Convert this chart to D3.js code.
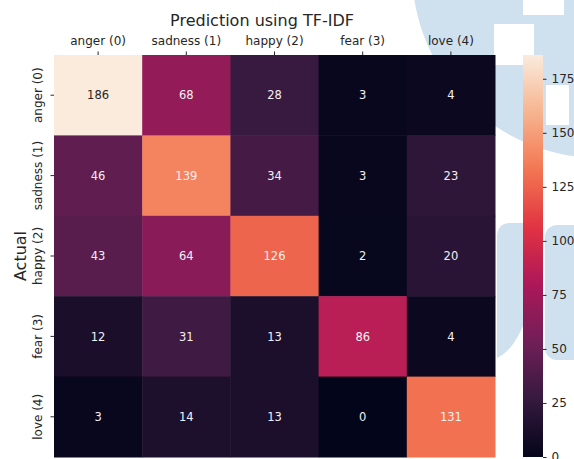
<!DOCTYPE html>
<html>
<head>
<meta charset="utf-8">
<script src="https://cdn.jsdelivr.net/npm/d3@7"></script>
<style>
  body { margin: 0; background: #fff; }
  svg { display: block; font-family: "DejaVu Sans", sans-serif; }
</style>
</head>
<body>
<div id="chart"></div>
<script>
// confusion matrix values
const predictedLabels = ["anger (0)", "sadness (1)", "happy (2)", "fear (3)", "love (4)"];
const actualLabels = ["anger (0)", "sadness (1)", "happy (2)", "fear (3)", "love (4)"];
const counts = [
  [186, 68, 28, 3, 4],
  [46, 139, 34, 3, 23],
  [43, 64, 126, 2, 20],
  [12, 31, 13, 86, 4],
  [3, 14, 13, 0, 131]
];
const colorbarTicks = [0, 25, 50, 75, 100, 125, 150, 175];

// seaborn "rocket" colormap stops
const rocketStops = [0, 1/7, 2/7, 3/7, 4/7, 5/7, 6/7, 1];
const rocketColors = ["#03051a", "#35193e", "#701f57", "#ad1759", "#e13342", "#f37651", "#f6b48f", "#faebdd"];

const width = 574, height = 459;
let hm = {left: 54, right: 495, top: 55, bottom: 457};
let cb = {left: 523, right: 543};
const textColor = "#262626";

let svg = d3.select("#chart").append("svg")
    .attr("width", width)
    .attr("height", height);

// faint logo in the background
let wm = svg.append("g").attr("fill", "#cfe0ef");
wm.append("circle").attr("cx", 600).attr("cy", -30).attr("r", 188);
wm.append("path").attr("d", "M497,237 Q497,223 511,223 L530,223 L530,308 Q516,350 497,358 Z");
wm.append("rect").attr("x", 545).attr("y", 225).attr("width", 40).attr("height", 135).attr("rx", 12);
let wmHoles = svg.append("g").attr("fill", "#fff");
wmHoles.append("rect").attr("x", 523).attr("y", 0).attr("width", 41).attr("height", 15);
wmHoles.append("rect").attr("x", 494).attr("y", 24).attr("width", 40).attr("height", 41);
wmHoles.append("rect").attr("x", 546).attr("y", 85).attr("width", 23).attr("height", 40);

let vmax = d3.max(counts.flat());
let color = d3.scaleLinear()
    .domain(rocketStops.map(s => s * vmax))
    .range(rocketColors)
    .interpolate(d3.interpolateRgb);

let x = d3.scaleBand().domain(predictedLabels).range([hm.left, hm.right]);
let y = d3.scaleBand().domain(actualLabels).range([hm.top, hm.bottom]);

let cells = counts.flatMap((row, i) => row.map((v, j) => ({
  actual: actualLabels[i], predicted: predictedLabels[j], value: v
})));

svg.append("g")
  .selectAll("rect")
  .data(cells)
  .enter().append("rect")
  .attr("x", d => x(d.predicted))
  .attr("y", d => y(d.actual))
  .attr("width", x.bandwidth() + 0.5)
  .attr("height", y.bandwidth() + 0.5)
  .attr("fill", d => color(d.value));

// annotations: dark text on light cells like seaborn
function lum(c) {
  let rgb = d3.rgb(c);
  let f = v => { v /= 255; return v <= 0.03928 ? v / 12.92 : Math.pow((v + 0.055) / 1.055, 2.4); };
  return 0.2126 * f(rgb.r) + 0.7152 * f(rgb.g) + 0.0722 * f(rgb.b);
}
svg.append("g")
  .selectAll("text")
  .data(cells)
  .enter().append("text")
  .attr("x", d => x(d.predicted) + x.bandwidth() / 2)
  .attr("y", d => y(d.actual) + y.bandwidth() / 2)
  .attr("text-anchor", "middle")
  .attr("dy", "0.36em")
  .attr("font-size", "11.5px")
  .attr("fill", d => lum(color(d.value)) > 0.408 ? textColor : "#f4f0f4")
  .text(d => d.value);

// top axis
let xAxis = svg.append("g")
  .attr("transform", `translate(0,${hm.top})`)
  .call(d3.axisTop(x).tickSize(3.5).tickPadding(6.5));
xAxis.select(".domain").remove();
xAxis.selectAll("line").attr("stroke", textColor);
xAxis.selectAll("text").attr("font-size", "12px").attr("fill", textColor)
  .attr("font-family", "DejaVu Sans");

// left axis with rotated labels
let yAxis = svg.append("g")
  .attr("transform", `translate(${hm.left},0)`)
  .call(d3.axisLeft(y).tickSize(3.5).tickPadding(4));
yAxis.select(".domain").remove();
yAxis.selectAll("line").attr("stroke", textColor);
yAxis.selectAll("text")
  .attr("font-size", "12px").attr("fill", textColor)
  .attr("font-family", "DejaVu Sans")
  .attr("text-anchor", "middle")
  .attr("x", null).attr("dy", null)
  .attr("transform", "translate(-12,0) rotate(-90)");

svg.append("text")
  .attr("x", 262).attr("y", 26)
  .attr("text-anchor", "middle")
  .attr("font-size", "16px")
  .attr("fill", textColor)
  .text("Prediction using TF-IDF");

svg.append("text")
  .attr("transform", `translate(26,${(hm.top + hm.bottom) / 2}) rotate(-90)`)
  .attr("text-anchor", "middle")
  .attr("font-size", "16px")
  .attr("fill", textColor)
  .text("Actual");

// colorbar
let grad = svg.append("defs").append("linearGradient")
  .attr("id", "cbgrad")
  .attr("x1", 0).attr("y1", 1).attr("x2", 0).attr("y2", 0);
grad.selectAll("stop")
  .data(d3.range(0, 1.0001, 0.02))
  .enter().append("stop")
  .attr("offset", d => d)
  .attr("stop-color", d => color(d * vmax));

svg.append("rect")
  .attr("x", cb.left).attr("y", hm.top)
  .attr("width", cb.right - cb.left).attr("height", hm.bottom - hm.top)
  .attr("fill", "url(#cbgrad)");

let cScale = d3.scaleLinear().domain([0, vmax]).range([hm.bottom, hm.top]);
let cAxis = svg.append("g")
  .attr("transform", `translate(${cb.right},0)`)
  .call(d3.axisRight(cScale).tickValues(colorbarTicks).tickSize(3.5).tickPadding(5));
cAxis.select(".domain").remove();
cAxis.selectAll("line").attr("stroke", textColor);
cAxis.selectAll("text").attr("font-size", "12px").attr("fill", textColor)
  .attr("font-family", "DejaVu Sans");
</script>
</body>
</html>
